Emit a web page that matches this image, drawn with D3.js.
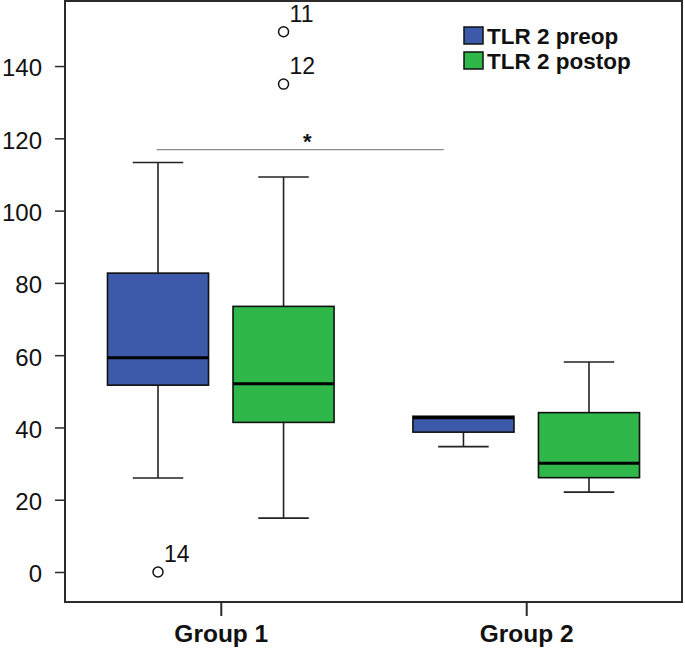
<!DOCTYPE html>
<html>
<head>
  <meta charset="utf-8">
  <title>TLR 2 boxplot</title>
  <style>
    body { margin: 0; background: #fff; }
    svg { display: block; font-family: "Liberation Sans", Arial, Helvetica, sans-serif; }
  </style>
</head>
<body>
<svg id="chart" width="685" height="653"></svg>

<script src="https://cdn.jsdelivr.net/npm/d3@7"></script>
<script>
// data
var groups = ["Group 1", "Group 2"];
var series = ["TLR 2 preop", "TLR 2 postop"];
var colors = ["#3d59a9", "#2fb74a"];

// five-number summaries, one entry per group
var preopLow  = [26.0, 34.7];
var preopQ1   = [51.7, 38.7];
var preopMed  = [59.3, 42.7];
var preopQ3   = [82.7, 43.1];
var preopHigh = [113.3, 43.1];

var postopLow  = [14.9, 22.1];
var postopQ1   = [41.4, 26.1];
var postopMed  = [52.1, 30.1];
var postopQ3   = [73.5, 44.1];
var postopHigh = [109.3, 58.1];

// outliers
var outlierGroup  = ["Group 1", "Group 1", "Group 1"];
var outlierSeries = ["TLR 2 postop", "TLR 2 postop", "TLR 2 preop"];
var outlierValue  = [149.5, 135.0, 0];
var outlierLabel  = ["11", "12", "14"];

var yTicks = [0, 20, 40, 60, 80, 100, 120, 140];

// significance bar (x in group units: 0 = Group 1, 1 = Group 2)
var sigFrom = -0.21, sigTo = 0.73, sigValue = 116.9, sigStarAt = 0.283, sigText = "*";

var stats = [
  {low: preopLow, q1: preopQ1, med: preopMed, q3: preopQ3, high: preopHigh},
  {low: postopLow, q1: postopQ1, med: postopMed, q3: postopQ3, high: postopHigh}
];

var boxes = [];
series.forEach(function(s, si) {
  groups.forEach(function(g, gi) {
    boxes.push({
      group: g, series: s, color: colors[si],
      low: stats[si].low[gi], q1: stats[si].q1[gi], med: stats[si].med[gi],
      q3: stats[si].q3[gi], high: stats[si].high[gi]
    });
  });
});

var plot = {left: 65, right: 682, top: 1, bottom: 602};

var svg = d3.select("#chart");

var y = d3.scaleLinear().domain([-8.3, 158]).range([plot.bottom, plot.top]);
var x0 = d3.scalePoint().domain(groups).range([plot.left, plot.right]).padding(0.51);
var xs = d3.scaleBand().domain(series).range([-113.3, 113.3]).paddingInner(0.195);
var xg = d3.scaleLinear().domain([0, 1]).range([x0(groups[0]), x0(groups[1])]);

function cx(g, s) { return x0(g) + xs(s) + xs.bandwidth() / 2; }

// frame
svg.append("rect")
    .attr("x", plot.left).attr("y", plot.top)
    .attr("width", plot.right - plot.left).attr("height", plot.bottom - plot.top)
    .attr("fill", "none").attr("stroke", "#2b2b2b").attr("stroke-width", 2);

// y axis
var yAxis = svg.append("g")
    .attr("transform", "translate(" + plot.left + ",0)")
    .call(d3.axisLeft(y).tickValues(yTicks).tickSize(10).tickPadding(13));
yAxis.select(".domain").remove();
yAxis.selectAll("line").attr("stroke", "#2b2b2b").attr("stroke-width", 1.5);
yAxis.selectAll("text")
    .attr("dy", "0.41em")
    .attr("font-size", 24).attr("fill", "#111");

// x axis
var xAxis = svg.append("g")
    .attr("transform", "translate(0," + plot.bottom + ")")
    .call(d3.axisBottom(x0).tickSize(14));
xAxis.select(".domain").remove();
xAxis.selectAll("line").attr("stroke", "#2b2b2b").attr("stroke-width", 2);
xAxis.selectAll("text")
    .attr("y", 39.5).attr("dy", 0)
    .attr("font-size", 24.5).attr("font-weight", "bold").attr("fill", "#111");

// boxes
var bw = xs.bandwidth();
var b = svg.append("g").selectAll("g").data(boxes).join("g")
    .attr("transform", function(d) { return "translate(" + cx(d.group, d.series) + ",0)"; });

b.append("line") // upper whisker
    .attr("x1", 0).attr("x2", 0)
    .attr("y1", function(d) { return y(d.q3); }).attr("y2", function(d) { return y(d.high); })
    .attr("stroke", "#222").attr("stroke-width", 1.6);
b.append("line") // lower whisker
    .attr("x1", 0).attr("x2", 0)
    .attr("y1", function(d) { return y(d.q1); }).attr("y2", function(d) { return y(d.low); })
    .attr("stroke", "#222").attr("stroke-width", 1.6);
b.filter(function(d) { return d.high > d.q3; }).append("line")
    .attr("x1", -bw / 4).attr("x2", bw / 4)
    .attr("y1", function(d) { return y(d.high); }).attr("y2", function(d) { return y(d.high); })
    .attr("stroke", "#222").attr("stroke-width", 1.6);
b.append("line")
    .attr("x1", -bw / 4).attr("x2", bw / 4)
    .attr("y1", function(d) { return y(d.low); }).attr("y2", function(d) { return y(d.low); })
    .attr("stroke", "#222").attr("stroke-width", 1.6);

b.append("rect")
    .attr("x", -bw / 2).attr("width", bw)
    .attr("y", function(d) { return y(d.q3); })
    .attr("height", function(d) { return y(d.q1) - y(d.q3); })
    .attr("fill", function(d) { return d.color; })
    .attr("stroke", "#111").attr("stroke-width", 1.6);
b.append("line")
    .attr("x1", -bw / 2).attr("x2", bw / 2)
    .attr("y1", function(d) { return y(d.med); }).attr("y2", function(d) { return y(d.med); })
    .attr("stroke", "#000").attr("stroke-width", 3);

// outliers
var out = svg.append("g").selectAll("g").data(outlierValue).join("g")
    .attr("transform", function(v, i) {
      return "translate(" + cx(outlierGroup[i], outlierSeries[i]) + "," + y(v) + ")";
    });
out.append("circle").attr("r", 5)
    .attr("fill", "#fff").attr("stroke", "#111").attr("stroke-width", 1.5);
out.append("text")
    .attr("x", 6).attr("y", -9.8)
    .attr("font-size", 23).attr("fill", "#111")
    .text(function(v, i) { return outlierLabel[i]; });

// significance bar
svg.append("line")
    .attr("x1", xg(sigFrom)).attr("x2", xg(sigTo))
    .attr("y1", y(sigValue)).attr("y2", y(sigValue))
    .attr("stroke", "#8a8a8a").attr("stroke-width", 1.2);
svg.append("text")
    .attr("x", xg(sigStarAt)).attr("y", y(sigValue) - 1)
    .attr("text-anchor", "middle")
    .attr("font-size", 22).attr("font-weight", "bold").attr("fill", "#111")
    .text(sigText);

// legend
var leg = svg.append("g").attr("transform", "translate(464,27)");
var li = leg.selectAll("g").data(series).join("g")
    .attr("transform", function(d, i) { return "translate(0," + (i * 25) + ")"; });
li.append("rect").attr("width", 19).attr("height", 17)
    .attr("fill", function(d, i) { return colors[i]; })
    .attr("stroke", "#111").attr("stroke-width", 1.5);
li.append("text")
    .attr("x", 23).attr("y", 16.5)
    .attr("font-size", 22.5).attr("font-weight", "bold").attr("fill", "#111")
    .text(function(d) { return d; });
</script>
</body>
</html>
